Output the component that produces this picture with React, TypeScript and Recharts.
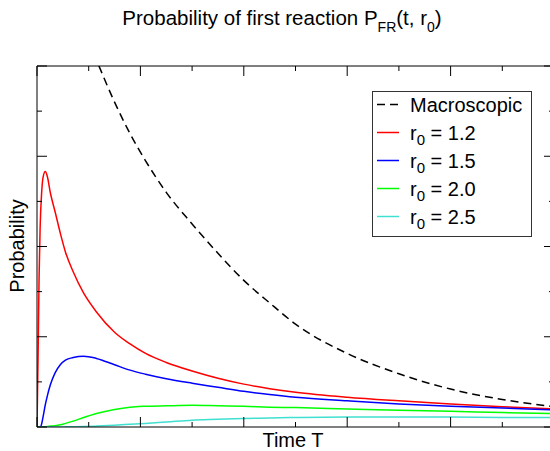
import React from "react";
import { Legend, Line, LineChart, XAxis, YAxis } from "recharts";

// time grid (T) and the curves
const time = [
  0, 0.02, 0.04, 0.06, 0.09, 0.12, 0.16, 0.2, 0.26, 0.35, 0.45, 0.55, 0.7, 0.9,
  1.15, 1.5, 1.8, 2.1, 2.5, 3, 3.5, 4, 4.5, 5, 6, 7, 8, 9, 10,
];
const macroscopic = [
  null, null, null, null, null, null, null, null, null, null, null, null, null,
  0.88, 0.813, 0.72, 0.65, 0.59, 0.52, 0.45, 0.385, 0.325, 0.275, 0.228,
  0.163, 0.118, 0.084, 0.061, 0.045,
];
const r12 = [
  0, 0.15, 0.33, 0.44, 0.52, 0.555, 0.566, 0.555, 0.518, 0.477, 0.43, 0.388,
  0.344, 0.297, 0.255, 0.21, 0.184, 0.163, 0.143, 0.124, 0.108, 0.095, 0.085,
  0.077, 0.066, 0.058, 0.051, 0.045, 0.04,
];
const r15 = [
  0, 0, 0, 0, 0.007, 0.024, 0.049, 0.069, 0.094, 0.12, 0.138, 0.148, 0.154,
  0.157, 0.152, 0.138, 0.126, 0.117, 0.107, 0.097, 0.088, 0.079, 0.072, 0.066,
  0.058, 0.051, 0.046, 0.042, 0.038,
];
const r20 = [
  0, 0, 0, 0, 0, 0, 0.0005, 0.001, 0.002, 0.003, 0.005, 0.008, 0.013, 0.021,
  0.03, 0.039, 0.044, 0.046, 0.047, 0.048, 0.047, 0.046, 0.044, 0.043, 0.04,
  0.037, 0.035, 0.032, 0.03,
];
const r25 = [
  0, 0, 0, 0, 0, 0, 0, 0, 0, 0, 0, 0.0003, 0.0005, 0.001, 0.002, 0.004, 0.006,
  0.008, 0.011, 0.015, 0.017, 0.019, 0.02, 0.021, 0.022, 0.022, 0.022, 0.021,
  0.021,
];
const radii = ["1.2", "1.5", "2.0", "2.5"];
const xTicks = [0, 1, 2, 3, 4, 5, 6, 7, 8, 9, 10];
const yTicks = [0, 0.1, 0.2, 0.3, 0.4, 0.5, 0.6, 0.7, 0.8];

const data = time.map((t, i) => ({
  t,
  macro: macroscopic[i],
  r12: r12[i],
  r15: r15[i],
  r20: r20[i],
  r25: r25[i],
}));

const series = [
  { key: "macro", name: "Macroscopic", color: "#000000", dash: "8 5" },
  { key: "r12", name: "r0 = " + radii[0], color: "#ff0000" },
  { key: "r15", name: "r0 = " + radii[1], color: "#0000ff" },
  { key: "r20", name: "r0 = " + radii[2], color: "#00ff00" },
  { key: "r25", name: "r0 = " + radii[3], color: "#40e0d0" },
];

const FONT = '"Liberation Sans", Arial, Helvetica, sans-serif';
const AXIS = "#000";

const isMajorX = (v: number) => Math.round(v) % 2 === 0;
const isMajorY = (v: number) => Math.round(v * 10) % 2 === 0;

const BottomTick = ({ x, y, payload }: any) => (
  <line x1={x} x2={x} y1={y} y2={y - (isMajorX(payload.value) ? 10 : 5)} stroke={AXIS} />
);
const TopTick = ({ x, y, payload }: any) => (
  <line x1={x} x2={x} y1={y} y2={y + (isMajorX(payload.value) ? 10 : 5)} stroke={AXIS} />
);
const LeftTick = ({ x, y, payload }: any) => (
  <line x1={x} x2={x + (isMajorY(payload.value) ? 10 : 5)} y1={y} y2={y} stroke={AXIS} />
);
const RightTick = ({ x, y, payload }: any) => (
  <line x1={x} x2={x - (isMajorY(payload.value) ? 10 : 5)} y1={y} y2={y} stroke={AXIS} />
);

const LegendLabel = ({ name, x, y }: { name: string; x: number; y: number }) => {
  if (name.startsWith("r0")) {
    return (
      <text x={x} y={y} fontSize={20} fontFamily={FONT} fill="#000">
        r<tspan fontSize={15} dy={5}>0</tspan>
        <tspan dy={-5}>{name.slice(2)}</tspan>
      </text>
    );
  }
  return (
    <text x={x} y={y} fontSize={20} fontFamily={FONT} fill="#000">
      {name}
    </text>
  );
};

const LegendBox = () => (
  <svg width={160} height={146} style={{ display: "block" }}>
    <rect x={0.5} y={0.5} width={159} height={145} fill="#fff" stroke="#333" />
    {series.map((s, i) => {
      const cy = 13.5 + i * 28;
      return (
        <g key={s.key}>
          <line x1={5} x2={27} y1={cy} y2={cy} stroke={s.color} strokeWidth={1.5} strokeDasharray={s.dash} />
          <LegendLabel name={s.name} x={38} y={cy + 7.5} />
        </g>
      );
    })}
  </svg>
);

const App = () => {
  return (
    <div
      style={{
        position: "absolute",
        top: 0,
        left: 0,
        width: 550,
        height: 451,
        overflow: "hidden",
        background: "#fff",
      }}
    >
      <LineChart
        width={560}
        height={451}
        data={data}
        margin={{ top: 65, right: 5, bottom: 23, left: 36 }}
      >
        <XAxis
          dataKey="t"
          type="number"
          domain={[0, 10]}
          ticks={xTicks}
          allowDataOverflow
          height={1}
          tickSize={0}
          tickMargin={0}
          tick={BottomTick}
          axisLine={{ stroke: AXIS }}
        />
        <XAxis
          xAxisId="top"
          orientation="top"
          dataKey="t"
          type="number"
          domain={[0, 10]}
          ticks={xTicks}
          allowDataOverflow
          height={1}
          tickSize={0}
          tickMargin={0}
          tick={TopTick}
          axisLine={{ stroke: AXIS }}
        />
        <YAxis
          type="number"
          domain={[0, 0.8]}
          ticks={yTicks}
          allowDataOverflow
          width={1}
          tickSize={0}
          tickMargin={0}
          tick={LeftTick}
          axisLine={{ stroke: AXIS }}
        />
        <YAxis
          yAxisId="right"
          orientation="right"
          type="number"
          domain={[0, 0.8]}
          ticks={yTicks}
          allowDataOverflow
          width={1}
          tickSize={0}
          tickMargin={0}
          tick={RightTick}
          axisLine={{ stroke: AXIS }}
        />
        <Legend
          layout="vertical"
          align="center"
          verticalAlign="middle"
          wrapperStyle={{ top: 91, left: 372, width: 160, height: 146 }}
          content={() => <LegendBox />}
        />
        {series.map((s) => (
          <Line
            key={s.key}
            dataKey={s.key}
            name={s.name}
            type="monotone"
            stroke={s.color}
            strokeWidth={1.5}
            strokeDasharray={s.dash}
            dot={false}
            activeDot={false}
            connectNulls={false}
            isAnimationActive={false}
          />
        ))}
      </LineChart>
      <svg
        width={550}
        height={451}
        style={{ position: "absolute", top: 0, left: 0, pointerEvents: "none" }}
      >
        <text x={282} y={25} textAnchor="middle" fontSize={20.5} fontFamily={FONT} fill="#000">
          Probability of first reaction P<tspan fontSize={14} dy={7}>FR</tspan>
          <tspan dy={-7}>(t, r</tspan>
          <tspan fontSize={14} dy={7}>0</tspan>
          <tspan dy={-7}>)</tspan>
        </text>
        <text
          x={23.5}
          y={246}
          transform="rotate(-90 23.5 246)"
          textAnchor="middle"
          fontSize={20}
          fontFamily={FONT}
          fill="#000"
        >
          Probability
        </text>
        <text x={293} y={447} textAnchor="middle" fontSize={20} fontFamily={FONT} fill="#000">
          Time T
        </text>
      </svg>
    </div>
  );
};

export default App;
